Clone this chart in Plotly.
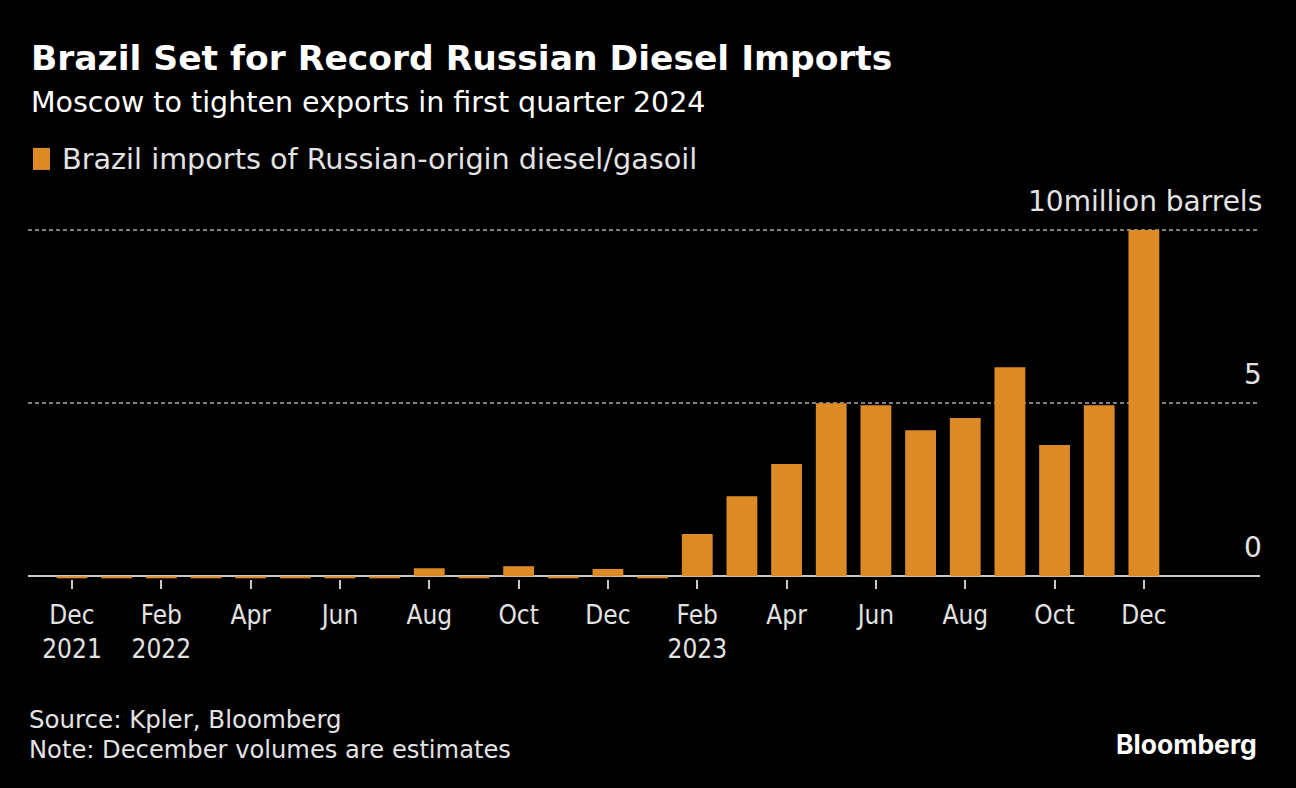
import plotly.graph_objects as go

months = ["Dec 2021", "Jan 2022", "Feb 2022", "Mar 2022", "Apr 2022", "May 2022", "Jun 2022",
          "Jul 2022", "Aug 2022", "Sep 2022", "Oct 2022", "Nov 2022", "Dec 2022",
          "Jan 2023", "Feb 2023", "Mar 2023", "Apr 2023", "May 2023", "Jun 2023",
          "Jul 2023", "Aug 2023", "Sep 2023", "Oct 2023", "Nov 2023", "Dec 2023"]
imports_mb = [-0.06, -0.06, -0.06, -0.06, -0.06, -0.06, -0.06, -0.06, 0.23, -0.06, 0.29, -0.06, 0.21,
              -0.06, 1.22, 2.31, 3.24, 5.0, 4.94, 4.22, 4.57, 6.04, 3.79, 4.94, 10.0]
tick_months = ["Dec 2021", "Feb 2022", "Apr 2022", "Jun 2022", "Aug 2022", "Oct 2022",
               "Dec 2022", "Feb 2023", "Apr 2023", "Jun 2023", "Aug 2023", "Oct 2023", "Dec 2023"]
tick_text = ["Dec<br>2021", "Feb<br>2022", "Apr", "Jun", "Aug", "Oct", "Dec",
             "Feb<br>2023", "Apr", "Jun", "Aug", "Oct", "Dec"]
y_ticks = [0, 5, 10]
y_tick_labels = ["0", "5", "10million barrels"]

FONT = "DejaVu Sans"
FONT_C = "DejaVu Sans Condensed"
ORANGE = "#dc8a26"
TEXT = "#e3e3e3"

fig = go.Figure()
fig.add_trace(go.Bar(x=months, y=imports_mb, marker=dict(color=ORANGE, line=dict(width=0)),
                     name="Brazil imports of Russian-origin diesel/gasoil", showlegend=False))

W, H = 1296, 788
left, right, top, bottom = 28, 36, 229, 209.4
Y_MIN, Y_TOP = -0.08, 10.03
fig.update_layout(
    width=W, height=H,
    paper_bgcolor="black", plot_bgcolor="black",
    margin=dict(l=left, r=right, t=top, b=bottom),
    bargap=0.31,
    font=dict(family=FONT, color=TEXT, size=24),
    xaxis=dict(type="category", range=[-0.985, 26.6], tickmode="array",
               tickvals=tick_months, ticktext=tick_text, showgrid=False,
               ticks="outside", ticklen=9, tickcolor="#c8c8c8", tickwidth=2,
               ticklabelstandoff=4,
               tickfont=dict(family=FONT_C, size=26, color=TEXT),
               showline=False, zeroline=False),
    yaxis=dict(range=[Y_MIN, Y_TOP], tickvals=y_ticks, showticklabels=False,
               showgrid=True, gridcolor="#808080", griddash="4px,3px", gridwidth=1.5,
               zeroline=True, zerolinecolor="#c8c8c8", zerolinewidth=2, showline=False),
)

for v, lab in zip(y_ticks, y_tick_labels):
    fig.add_annotation(x=1, xref="paper", y=v, yref="y", text=lab, showarrow=False,
                       xanchor="right", yanchor="bottom", yshift=10, xshift=4,
                       font=dict(family=FONT, size=28, color=TEXT))


def px_x(px):
    return (px - left) / (W - left - right)


def px_y(py):
    return (H - bottom - py) / (H - top - bottom)


fig.add_annotation(x=px_x(29), y=px_y(58), xref="paper", yref="paper", showarrow=False,
                   xanchor="left", yanchor="middle",
                   text="<b>Brazil Set for Record Russian Diesel Imports</b>",
                   font=dict(family=FONT, size=34.5, color="white"))
fig.add_annotation(x=px_x(29), y=px_y(103), xref="paper", yref="paper", showarrow=False,
                   xanchor="left", yanchor="middle",
                   text="Moscow to tighten exports in first quarter 2024",
                   font=dict(family=FONT, size=28.5, color="white"))
fig.add_shape(type="rect", xref="paper", yref="paper",
              x0=px_x(33), x1=px_x(50), y0=px_y(170), y1=px_y(148),
              fillcolor=ORANGE, line=dict(width=0))
fig.add_annotation(x=px_x(60), y=px_y(159), xref="paper", yref="paper", showarrow=False,
                   xanchor="left", yanchor="middle",
                   text="Brazil imports of Russian-origin diesel/gasoil",
                   font=dict(family=FONT, size=28.7, color=TEXT))
fig.add_annotation(x=px_x(27), y=px_y(719), xref="paper", yref="paper", showarrow=False,
                   xanchor="left", yanchor="middle", align="left",
                   text="Source: Kpler, Bloomberg",
                   font=dict(family=FONT, size=24.5, color=TEXT))
fig.add_annotation(x=px_x(27), y=px_y(749), xref="paper", yref="paper", showarrow=False,
                   xanchor="left", yanchor="middle", align="left",
                   text="Note: December volumes are estimates",
                   font=dict(family=FONT, size=24.2, color=TEXT))
fig.add_annotation(x=px_x(1259), y=px_y(743), xref="paper", yref="paper", showarrow=False,
                   xanchor="right", yanchor="middle",
                   text="<b>Bloomberg</b>",
                   font=dict(family="Inter", size=26.5, color="white"))

fig.write_html("out.html", config={"displayModeBar": False},
               post_script="document.body.style.margin='0';document.body.style.padding='0';"
                           "document.body.style.background='black';")
